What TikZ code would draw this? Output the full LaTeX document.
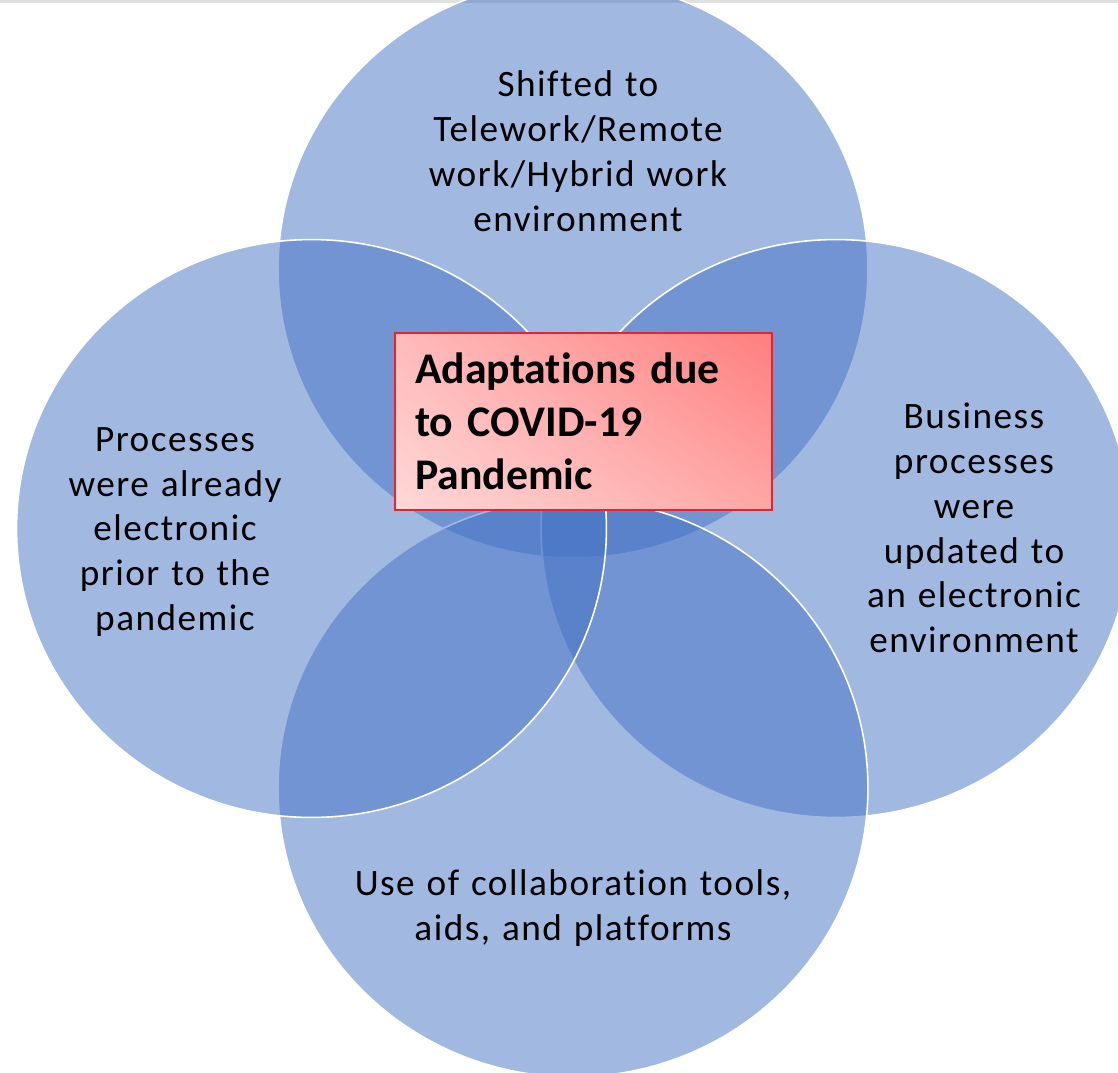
\documentclass[tikz,border=0pt]{standalone}
\usepackage{fontspec}
\setmainfont{Carlito}[Ligatures=NoCommon]
\newfontfamily\lblfont{Carlito}[LetterSpace=4, WordSpace=1.2, Ligatures=NoCommon]
\usetikzlibrary{shapes.geometric,shadings}
\definecolor{vennblue}{HTML}{4472C4}
\definecolor{boxborder}{HTML}{E0262E}
\definecolor{pinkA}{HTML}{FFD8D8}
\definecolor{pinkB}{HTML}{FF7E7E}
\definecolor{pinkC}{HTML}{FFBABA}
\definecolor{pinkD}{HTML}{FFA6A6}
\begin{document}
\begin{tikzpicture}[x=0.02cm,y=-0.02cm,
  venn/.style={ellipse, draw=white, line width=0.9pt, fill=vennblue, fill opacity=0.5, minimum width=11.8cm, minimum height=11.56cm, inner sep=0pt},
  lbl/.style={align=center, text=black, font=\lblfont\fontsize{21.2}{25.5}\selectfont, inner sep=0pt},
  titlebox/.style={draw=boxborder, line width=1.1pt, lower left=pinkA, upper right=pinkB, upper left=pinkC, lower right=pinkD, minimum width=7.54cm, minimum height=3.54cm, text width=6.74cm, align=left, inner xsep=0.4cm, inner ysep=0pt, font=\bfseries\fontsize{24.9}{30}\selectfont}]
\clip (0,0) rectangle (1118,1072);
\fill[white] (0,0) rectangle (1118,1072);
\draw[black!12, line width=2pt] (0,1) -- (1118,1);
\node[venn] (ctop) at (573,269) {};
\node[venn] (cright) at (836,528.5) {};
\node[venn] (cbottom) at (573,788) {};
\node[venn] (cleft) at (311.5,528.5) {};
\node[lbl] (ttop) at (578,151) {Shifted to\\Telework/Remote\\work/Hybrid work\\environment};
\node[lbl] (tleft) at (175,532) {Processes\\were already\\electronic\\prior to the\\pandemic};
\node[lbl] (tright) at (974,528) {Business\\processes\\were\\updated to\\an electronic\\environment};
\node[lbl] (tbottom) at (573,908) {Use of collaboration tools,\\aids, and platforms};
\node[titlebox] (center) at (583.5,421.5) {Adaptations due\\to COVID-19\\Pandemic};
\end{tikzpicture}
\end{document}
